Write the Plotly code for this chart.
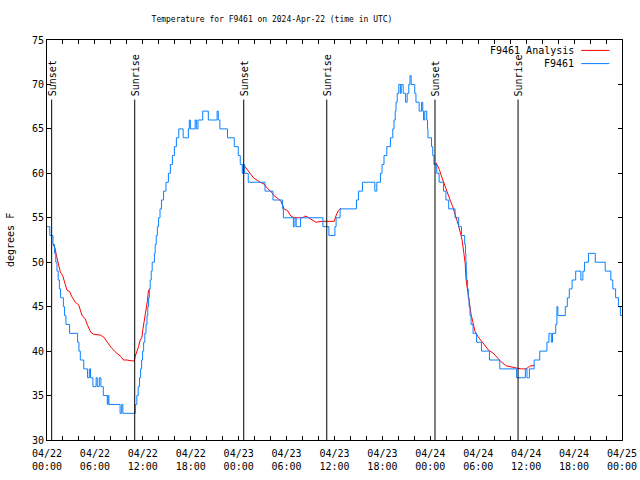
import plotly.graph_objects as go
import pandas as pd

# ---------------- data ----------------
start_time = "2024-04-22 00:00"

# F9461 observations: hours since start, temperature (deg F) at each change
blue_hours = [0.0, 0.35, 0.75, 0.95, 1.1, 1.25, 1.4, 1.55, 1.7, 2.05, 2.2, 2.375, 2.83, 3.83, 4.0, 4.17,
              4.6, 5.08, 5.3, 5.45, 5.75, 6.15, 6.3, 6.55, 6.75, 7.05, 7.55, 7.65, 7.75, 9.15, 9.35, 9.5,
              11.05, 11.25, 11.42, 11.58, 11.72, 11.85, 11.97, 12.1, 12.25, 12.4, 12.52, 12.62, 12.72,
              12.82, 12.92, 13.05, 13.17, 13.45, 13.55, 13.68, 13.82, 13.97, 14.15, 14.33, 14.6, 14.9,
              15.2, 15.45, 15.7, 15.95, 16.2, 16.5, 17.05, 17.7, 17.82, 17.95, 18.55, 18.7, 18.9, 19.5,
              20.2, 21.3, 21.45, 21.65, 22.6, 23.45, 23.95, 24.2, 24.45, 24.55, 24.75, 25.2, 27.3, 28.3,
              29.5, 29.6, 30.85, 31.05, 31.2, 31.75, 34.55, 35.3, 36.05, 36.2, 36.7, 38.75, 39.0, 39.5,
              41.05, 41.3, 41.75, 41.95, 42.2, 42.55, 43.0, 43.3, 43.45, 43.6, 43.7, 43.85, 44.05, 44.25,
              44.35, 44.6, 44.9, 45.1, 45.3, 45.45, 45.6, 46.05, 46.2, 46.6, 46.9, 47.05, 47.15, 47.3,
              47.55, 47.65, 47.7, 48.15, 48.3, 48.45, 48.8, 49.1, 49.65, 49.95, 50.3, 51.1, 51.55, 51.9,
              52.3, 52.4, 52.45, 52.5, 52.55, 52.65, 52.75, 52.85, 52.97, 53.1, 53.35, 53.8, 54.4, 55.4,
              56.7, 58.8, 59.9, 60.1, 60.4, 61.0, 61.7, 62.6, 62.85, 63.15, 63.3, 63.7, 63.85, 63.97,
              64.9, 65.15, 65.4, 65.75, 66.2, 66.85, 67.1, 67.3, 67.8, 68.65, 69.9, 70.6, 70.85, 71.2,
              71.55, 71.8, 72.0]
blue_temps = [54, 53, 52, 51, 50, 49, 48, 47, 46, 45, 44, 43, 42, 41, 40, 39,
              38, 37, 38, 37, 36, 37, 36, 37, 36, 35, 34, 35, 34, 33, 34, 33,
              34, 35, 36, 37, 38, 39, 40, 41, 42, 43, 44, 45, 46,
              47, 48, 49, 50, 51, 52, 53, 54, 55, 56, 57, 58, 59,
              60, 61, 62, 63, 64, 65, 64, 65, 66, 65, 66, 65, 66, 67,
              66, 67, 66, 65, 64, 63, 62, 61, 60, 61, 60, 59, 58, 57,
              56, 55, 54, 55, 54, 55, 54, 53, 54, 55, 56, 57, 58, 59,
              58, 59, 60, 61, 62, 63, 64, 65, 66, 67, 68, 69, 70, 69,
              70, 69, 68, 69, 70, 71, 70, 69, 68, 67, 68, 67, 66, 67,
              66, 65, 64, 63, 62, 61, 60, 59, 58, 57, 56, 55, 54, 53,
              52, 51, 50, 49, 48, 47, 46, 45, 44, 43, 42, 41, 40, 39,
              38, 37, 38, 37, 38, 39, 40, 41, 42, 41, 42, 43, 45, 44,
              45, 46, 47, 48, 49, 48, 49, 50, 51, 50, 49, 48, 47, 46,
              45, 44, 44]

# F9461 Analysis: three night-time segments (hours since start, deg F)
red1_hours = [0.75, 1.0, 1.17, 1.46, 1.67, 1.96, 2.17, 2.5, 2.83, 3.125, 3.54, 3.96, 4.375, 4.79, 5.08,
              5.5, 5.83, 6.67, 7.08, 7.5, 8.125, 8.75, 9.25, 9.58, 10.0, 10.625, 10.92, 11.04, 11.25,
              11.46, 11.67, 11.875, 12.0, 12.17, 12.375, 12.58, 12.71, 12.92]
red1_temps = [52.0, 51.6, 50.8, 49.7, 48.9, 48.5, 47.8, 46.85, 46.7, 46.1, 45.5, 45.2, 44.05, 43.6, 42.9,
              42.1, 41.9, 41.8, 41.6, 41.1, 40.3, 39.75, 39.4, 39.0, 39.0, 38.9, 38.9, 39.4, 39.9,
              40.5, 41.25, 41.5, 42.4, 43.3, 44.6, 45.7, 46.85, 46.9]
red2_hours = [24.76, 25.1, 25.42, 25.85, 26.35, 26.68, 27.18, 27.6, 28.0, 28.43, 28.86, 29.27, 29.69,
              30.11, 30.53, 30.94, 32.0, 32.3, 32.6, 33.25, 33.66, 34.5, 35.1, 35.96, 36.17, 36.47, 36.8]
red2_temps = [60.8, 60.4, 59.96, 59.5, 59.2, 59.0, 58.8, 58.3, 58.0, 57.5, 57.2, 56.9, 56.0,
              55.8, 55.2, 55.0, 55.0, 55.2, 55.1, 54.7, 54.5, 54.6, 54.6, 54.6, 55.2, 55.8, 56.1]
red3_hours = [48.72, 49.14, 49.35, 49.68, 50.1, 50.39, 50.8, 51.15, 51.44, 51.77, 51.98, 52.2, 52.36,
              52.48, 52.7, 52.9, 53.11, 53.32, 53.6, 53.95, 54.37, 54.78, 55.29, 55.83, 56.46, 56.87,
              57.5, 58.13, 58.76, 59.39, 60.01, 60.43, 60.85, 61.05]
red3_temps = [61.2, 60.4, 59.8, 58.9, 57.9, 57.2, 56.25, 55.3, 54.4, 53.3, 52.5, 51.0, 49.9,
              48.0, 46.5, 45.0, 44.1, 43.3, 42.2, 41.65, 41.1, 40.7, 40.1, 39.8, 39.2, 38.8,
              38.35, 38.2, 38.1, 38.0, 38.0, 38.3, 38.4, 38.4]

# Sunset / sunrise events
event_times = ["2024-04-22 00:35", "2024-04-22 10:59", "2024-04-23 00:38",
               "2024-04-23 11:02", "2024-04-24 00:35", "2024-04-24 10:59"]
event_labels = ["Sunset", "Sunrise", "Sunset", "Sunrise", "Sunset", "Sunrise"]

x_tick_times = ["2024-04-22 00:00", "2024-04-22 06:00", "2024-04-22 12:00", "2024-04-22 18:00",
                "2024-04-23 00:00", "2024-04-23 06:00", "2024-04-23 12:00", "2024-04-23 18:00",
                "2024-04-24 00:00", "2024-04-24 06:00", "2024-04-24 12:00", "2024-04-24 18:00",
                "2024-04-25 00:00"]
x_tick_labels = ["04/22<br>00:00", "04/22<br>06:00", "04/22<br>12:00", "04/22<br>18:00",
                 "04/23<br>00:00", "04/23<br>06:00", "04/23<br>12:00", "04/23<br>18:00",
                 "04/24<br>00:00", "04/24<br>06:00", "04/24<br>12:00", "04/24<br>18:00",
                 "04/25<br>00:00"]

title_text = "Temperature for F9461 on 2024-Apr-22 (time in UTC)"
y_title = "degrees F"
red_name = "F9461 Analysis"
blue_name = "F9461"

# ---------------- build ----------------
t0 = pd.Timestamp(start_time)


def to_times(hours):
    return [None if h is None else t0 + pd.Timedelta(hours=h) for h in hours]


red_hours = red1_hours + [None] + red2_hours + [None] + red3_hours
red_temps = red1_temps + [None] + red2_temps + [None] + red3_temps

RED = "#ff0000"
BLUE = "#0a80ff"
MONO = "DejaVu Sans Mono"

fig = go.Figure()
fig.add_trace(go.Scatter(x=to_times(red_hours), y=red_temps, mode="lines", name=red_name,
                         line=dict(color=RED, width=1), connectgaps=False, showlegend=False))
fig.add_trace(go.Scatter(x=to_times(blue_hours), y=blue_temps, mode="lines", name=blue_name,
                         line=dict(color=BLUE, width=1, shape="hv"), showlegend=False))

LINE_TOP = 68.3
for t, lab in zip(event_times, event_labels):
    fig.add_shape(type="line", xref="x", yref="y", x0=t, x1=t, y0=30, y1=LINE_TOP,
                  line=dict(color="black", width=1))
    fig.add_annotation(x=t, y=LINE_TOP, xref="x", yref="y", text=lab, textangle=-90,
                       showarrow=False, xanchor="center", yanchor="bottom", xshift=1, yshift=1,
                       font=dict(family=MONO, size=10, color="black"))

# manual gnuplot-style key (text right, sample line on its right)
for i, (name, col) in enumerate([(red_name, RED), (blue_name, BLUE)]):
    yp = 0.974 - i * 0.033
    fig.add_annotation(x=0.92, y=yp, xref="paper", yref="paper", text=name, showarrow=False,
                       xanchor="right", yanchor="middle",
                       font=dict(family=MONO, size=10, color="black"))
    fig.add_shape(type="line", xref="paper", yref="paper", x0=0.929, x1=0.978, y0=yp, y1=yp,
                  line=dict(color=col, width=1))

fig.add_annotation(x=0, y=0.5, xref="paper", yref="paper", text=y_title, textangle=-90,
                   showarrow=False, xanchor="center", yanchor="middle", xshift=-37,
                   font=dict(family=MONO, size=10, color="black"))

axis_common = dict(showline=True, linecolor="black", linewidth=1, mirror="allticks",
                   ticks="inside", ticklen=4, tickcolor="black", tickwidth=1,
                   showgrid=False, zeroline=False, automargin=False,
                   tickfont=dict(family=MONO, size=10, color="black"))

fig.update_layout(
    width=640, height=480,
    paper_bgcolor="white", plot_bgcolor="white",
    margin=dict(l=47, r=18, t=40, b=40),
    title=dict(text=title_text, x=272 / 640, xref="container", xanchor="center",
               y=1 - 19 / 480, yref="container", yanchor="middle", automargin=False,
               font=dict(family=MONO, size=8, color="black")),
    xaxis=dict(type="date", range=[x_tick_times[0], x_tick_times[-1]],
               tickvals=x_tick_times, ticktext=x_tick_labels,
               minor=dict(dtick=2 * 3600 * 1000, tick0=x_tick_times[0], ticks="inside",
                          ticklen=4, tickcolor="black", showgrid=False),
               ticklabelstandoff=4,
               **axis_common),
    yaxis=dict(range=[30, 75], dtick=5, tick0=30, **axis_common),
)

fig.write_html("out.html", config={"displayModeBar": False},
               post_script="document.body.style.margin='0px';document.body.style.overflow='hidden';")
